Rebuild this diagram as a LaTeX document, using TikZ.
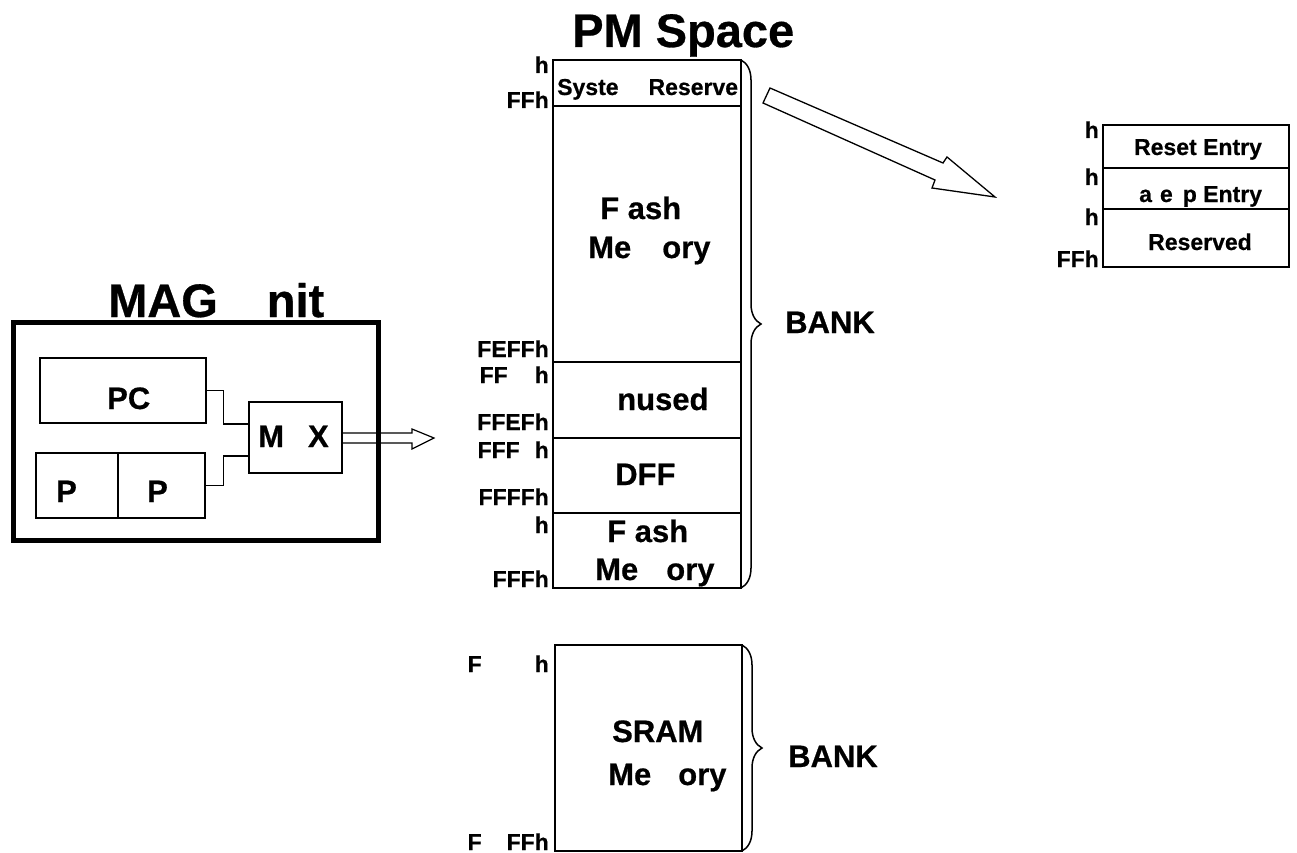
\documentclass[tikz,border=0pt]{standalone}
\usepackage{fontspec}
\setmainfont{Liberation Sans}[BoldFeatures={FakeBold=0.6}]
\usetikzlibrary{decorations.pathreplacing}

\begin{document}
\begin{tikzpicture}[x=1pt,y=-1pt,
    box/.style={draw,line width=1.5pt},
    blk/.style={draw,line width=1.2pt,inner sep=0pt},
    addr/.style={anchor=base east,inner sep=0pt,font=\fontsize{23}{23}\selectfont\bfseries},
    txt/.style={anchor=base west,inner sep=0pt,font=\fontsize{23}{23}\selectfont\bfseries},
    big/.style={anchor=base west,inner sep=0pt,font=\fontsize{31}{31}\selectfont\bfseries},
    ttl/.style={anchor=base west,inner sep=0pt,font=\fontsize{47}{47}\selectfont\bfseries},
    bank/.style={decorate,decoration={brace,amplitude=20pt},line width=1.5pt}]
                \useasboundingbox (0,0) rectangle (1297,853);
                \node[ttl] (pmtitle) at (572,47) {PM Space};
                \node[ttl] (magtitle) at (108,317) {MAG\hspace{49pt}nit};
                \draw[line width=5pt] (13,322) rectangle (378,540);
                \node[blk,minimum width=166pt,minimum height=65pt] (pc) at (123,390.5) {};
                \node[blk,minimum width=169pt,minimum height=65pt] (pp) at (120.5,485.5) {};
                \draw[line width=1.2pt] (118,453) -- (118,518);
                \node[blk,minimum width=93pt,minimum height=71pt] (mux) at (295.5,437.5) {};
                \node[big] (pclbl) at (107,409) {PC};
                \node[big] (plo) at (56,502) {P};
                \node[big] (phi) at (147,502) {P};
                \node[big] (muxlbl) at (258,447) {M\hspace{24pt}X};
                \draw[line width=1.2pt] (pc.east) -- ++(17,0) |- ([yshift=13.5pt]mux.west);
                \draw[line width=1.2pt] (pp.east) -- ++(18,0) |- ([yshift=-18.5pt]mux.west);
                \draw[line width=1.2pt] ([yshift=4.5pt]mux.east) -- (412,433) -- (412,429) -- (434,438)
                    -- (412,449) -- (412,443) -- ([yshift=-5.5pt]mux.east);
                \draw[box] (553,60) rectangle (741,588);
                \foreach \y in {106,362,438,513}
                    \draw[box] (553,\y) -- (741,\y);
                \draw[bank] (741,60) -- (741,588);
                \node[big] (bank0) at (785,333) {BANK};
                \node[addr] (a1) at (549,73) {h};
                \node[addr] (a2) at (549,108) {FFh};
                \node[addr] (a3) at (549,357) {FEFFh};
                \node[addr] (a4) at (549,383) {FF\hspace{27pt}h};
                \node[addr] (a5) at (549,430) {FFEFh};
                \node[addr] (a6) at (549,458) {FFF\hspace{15pt}h};
                \node[addr] (a7) at (549,505) {FFFFh};
                \node[addr] (a8) at (549,533) {h};
                \node[addr] (a9) at (549,587) {FFFh};
                \node[txt] (sysres) at (557,95) {Syste\hspace{30pt}Reserve};
                \node[big] (flash1) at (600,219) {F ash};
                \node[big] (mem1) at (588,258) {Me\hspace{31pt}ory};
                \node[big] (unused) at (617,410) {nused};
                \node[big] (dff) at (615,485) {DFF};
                \node[big] (flash2) at (607,542) {F ash};
                \node[big] (mem2) at (595,580) {Me\hspace{28pt}ory};
                \draw[box] (555,645) rectangle (742,851);
                \draw[bank] (742,645) -- (742,851);
                \node[big] (bank1) at (788,767) {BANK};
                \node[addr] (s1) at (549,672) {F\hspace{53pt}h};
                \node[addr] (s2) at (549,850) {F\hspace{25pt}FFh};
                \node[big] (sram) at (612,742) {SRAM};
                \node[big] (mem3) at (608,785) {Me\hspace{27pt}ory};
                \draw[line width=1.3pt] (770,88) -- (943,163) -- (947,157) -- (995,197)
                    -- (932,188) -- (935,180) -- (763,103) -- cycle;
                \draw[box] (1103,125) rectangle (1289,267);
                \draw[box] (1103,168) -- (1289,168);
                \draw[box] (1103,209) -- (1289,209);
                \node[addr] (v1) at (1099,138) {h};
                \node[addr] (v2) at (1099,185) {h};
                \node[addr] (v3) at (1099,225) {h};
                \node[addr] (v4) at (1099,267) {FFh};
                \node[txt,anchor=base] (reset) at (1198,155) {Reset Entry};
                \node[txt] (wake) at (1139,202) {a\hspace{8pt}e\hspace{10pt}p Entry};
                \node[txt,anchor=base] (resvd) at (1200,250) {Reserved};
\end{tikzpicture}
\end{document}
